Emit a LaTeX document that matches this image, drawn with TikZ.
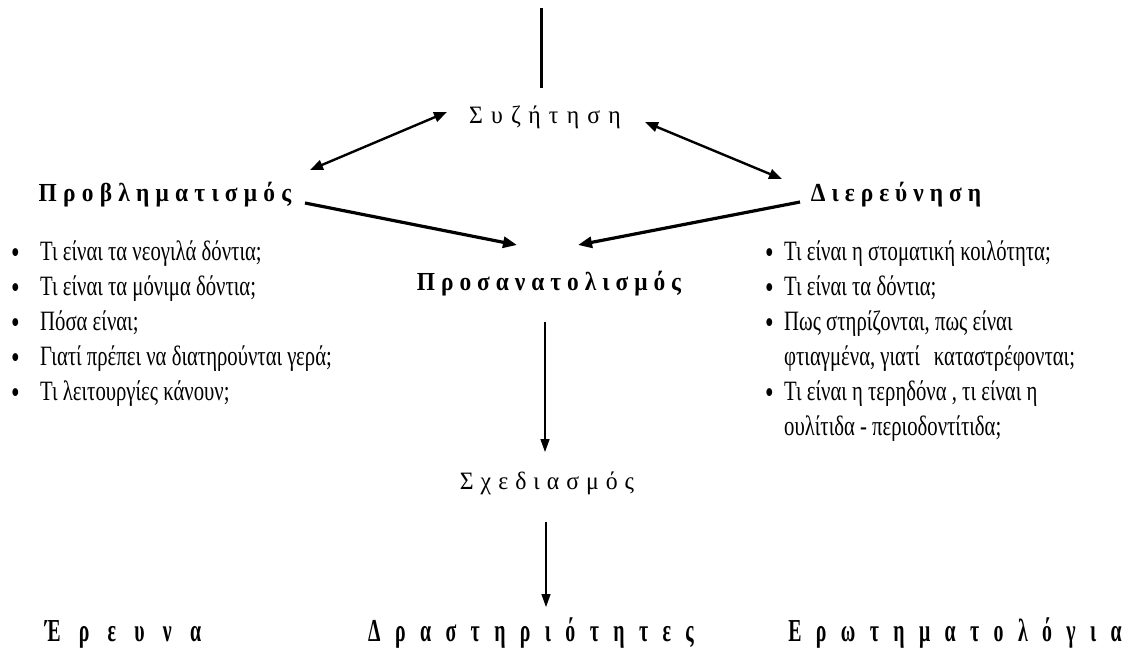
\documentclass[tikz,border=0pt]{standalone}
\usepackage{fontspec}
\setmainfont{Liberation Serif}
\newfontfamily\hdfont[FakeStretch=0.9]{Liberation Serif}
\newfontfamily\rgfont[FakeStretch=0.95]{Liberation Serif}
\newfontfamily\itfont[FakeStretch=0.74]{Liberation Serif}
\newfontfamily\botfont[FakeStretch=0.62]{Liberation Serif}
\newcommand{\lsp}[1]{\addfontfeature{LetterSpace=#1}}
\newcommand{\bul}{\raisebox{-3pt}{\fontsize{33}{33}\selectfont •}}
\usetikzlibrary{arrows.meta}
\begin{document}
\begin{tikzpicture}[x=1pt,y=-1pt,
  lbl/.style={inner sep=0pt,anchor=base},
  item/.style={inner sep=0pt,anchor=base west,font=\itfont\fontsize{28}{32}\selectfont},
  dbl/.style={line width=2.4pt,{Triangle[length=13pt,width=10pt]}-{Triangle[length=13pt,width=10pt]}},
  thk/.style={line width=3.2pt,-{Triangle[length=14pt,width=11pt]}},
  thn/.style={line width=1.4pt,-{Triangle[length=13pt,width=9pt]}}]
\fill[white] (0,0) rectangle (1131,654);
\useasboundingbox (0,0) rectangle (1131,654);

% headings
\node[lbl,font=\rgfont\fontsize{25}{29}\selectfont\lsp{33}] (syz) at (545,123) {Συζήτηση};
\node[lbl,font=\hdfont\bfseries\fontsize{26}{30}\selectfont\lsp{24}] (prob) at (165,201) {Προβληματισμός};
\node[lbl,font=\hdfont\bfseries\fontsize{26}{30}\selectfont\lsp{23}] (dier) at (896,201) {Διερεύνηση};
\node[lbl,font=\hdfont\bfseries\fontsize{26}{30}\selectfont\lsp{23}] (pros) at (549,290) {Προσανατολισμός};
\node[lbl,font=\rgfont\fontsize{25}{29}\selectfont\lsp{28}] (sxed) at (547,489) {Σχεδιασμός};
\node[lbl,font=\botfont\bfseries\fontsize{32}{36}\selectfont\lsp{57}] (erev) at (123,641) {Έρευνα};
\node[lbl,font=\botfont\bfseries\fontsize{32}{36}\selectfont\lsp{45}] (dras) at (531,641) {Δραστηριότητες};
\node[lbl,font=\botfont\bfseries\fontsize{32}{36}\selectfont\lsp{45}] (erot) at (955,641) {Ερωτηματολόγια};

% left list
\node[item] (l1) at (11,260) {\makebox[29pt][l]{\bul}Τι είναι τα νεογιλά δόντια;};
\node[item] (l2) at (11,295) {\makebox[29pt][l]{\bul}Τι είναι τα μόνιμα δόντια;};
\node[item] (l3) at (11,330) {\makebox[29pt][l]{\bul}Πόσα είναι;};
\node[item] (l4) at (11,365) {\makebox[29pt][l]{\bul}Γιατί πρέπει να διατηρούνται γερά;};
\node[item] (l5) at (11,400) {\makebox[29pt][l]{\bul}Τι λειτουργίες κάνουν;};

% right list
\node[item] (r1) at (765,260) {\makebox[19pt][l]{\bul}Τι είναι η στοματική κοιλότητα;};
\node[item] (r2) at (765,295) {\makebox[19pt][l]{\bul}Τι είναι τα δόντια;};
\node[item] (r3) at (765,330) {\makebox[19pt][l]{\bul}Πως στηρίζονται, πως είναι};
\node[item] (r3b) at (784,365) {φτιαγμένα, γιατί\hspace{14pt}καταστρέφονται;};
\node[item] (r4) at (765,400) {\makebox[19pt][l]{\bul}Τι είναι η τερηδόνα , τι είναι η};
\node[item] (r4b) at (784,435) {ουλίτιδα - περιοδοντίτιδα;};

% connector end points
\coordinate (top) at (541,8);
\coordinate (topend) at (541,88);
\coordinate (syzL) at (447,112);
\coordinate (probR) at (310,170);
\coordinate (syzR) at (645,122);
\coordinate (dierL) at (782,179);
\coordinate (probS) at (305,203);
\coordinate (prosL) at (517,245);
\coordinate (dierS) at (800,202);
\coordinate (prosR) at (578,245);
\coordinate (prosB) at (545,322);
\coordinate (sxedT) at (545,452);
\coordinate (sxedB) at (546,522);
\coordinate (drasT) at (546,607);

\draw[line width=3pt] (top) -- (topend);
\draw[dbl] (probR) -- (syzL);
\draw[dbl] (syzR) -- (dierL);
\draw[thk] (probS) -- (prosL);
\draw[thk] (dierS) -- (prosR);
\draw[thn] (prosB) -- (sxedT);
\draw[thn] (sxedB) -- (drasT);
\end{tikzpicture}
\end{document}
